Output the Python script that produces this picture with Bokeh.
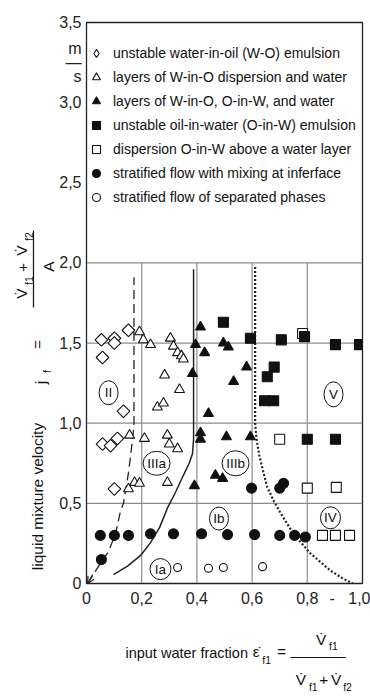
import numpy as np
from bokeh.plotting import figure
from bokeh.layouts import row, column
from bokeh.models import Range1d, FixedTicker, Legend, LegendItem, Arrow, OpenHead
from bokeh.core.properties import value
from bokeh.embed import file_html
from bokeh.resources import INLINE

FONT = "Liberation Sans"

# ---------------- data ----------------
x_ticks = [0, 0.2, 0.4, 0.6, 0.8, 0.89, 1.0]
x_tick_labels = ["0", "0,2", "0,4", "0,6", "0,8", "-", "1,0"]
y_ticks = [0, 0.5, 1.0, 1.5, 2.0, 2.5, 3.0, 3.25, 3.5]
y_tick_labels = ["0", "0,5", "1,0", "1,5", "2,0", "2,5", "3,0", "m\n\u2014\ns", "3,5"]
grid_x = [0.2, 0.4, 0.6, 0.8]
grid_y = [0.5, 1.0, 1.5, 2.0]
grid_top = 2.0

# unstable W-O emulsion (open diamonds)
wo_x = [0.054, 0.101, 0.101, 0.152, 0.058, 0.134, 0.058, 0.087, 0.112, 0.101]
wo_y = [1.52, 1.53, 1.50, 1.58, 1.41, 1.075, 0.87, 0.86, 0.905, 0.59]
# layers of W-in-O dispersion and water (open triangles)
wdw_x = [0.192, 0.206, 0.232, 0.304, 0.315, 0.33, 0.344, 0.351, 0.283, 0.337, 0.257,
         0.279, 0.156, 0.21, 0.293, 0.30, 0.33, 0.293, 0.152, 0.174, 0.192]
wdw_y = [1.57, 1.52, 1.49, 1.53, 1.48, 1.44, 1.42, 1.40, 1.30, 1.21, 1.10,
         1.125, 0.925, 0.905, 0.925, 0.87, 0.84, 0.63, 0.59, 0.63, 0.625]
# layers of W-in-O, O-in-W and water (filled triangles)
wow_x = [0.413, 0.395, 0.428, 0.384, 0.442, 0.496, 0.514, 0.58, 0.533, 0.413, 0.413,
         0.507, 0.594, 0.467, 0.493, 0.391]
wow_y = [1.60, 1.49, 1.44, 1.31, 1.06, 1.50, 1.475, 1.35, 1.26, 0.94, 0.90,
         0.915, 0.915, 0.675, 0.655, 0.61]
# unstable O-in-W emulsion (filled squares)
ow_x = [0.496, 0.594, 0.706, 0.79, 0.902, 0.989, 0.68, 0.655, 0.645, 0.678, 0.80, 0.902]
ow_y = [1.63, 1.53, 1.52, 1.54, 1.49, 1.49, 1.35, 1.29, 1.14, 1.14, 0.90, 0.90]
# dispersion O-in-W above a water layer (open squares)
owl_x = [0.783, 0.70, 0.80, 0.905, 0.855, 0.902, 0.953]
owl_y = [1.56, 0.90, 0.595, 0.60, 0.30, 0.30, 0.30]
# stratified flow with mixing at interface (filled circles)
smi_x = [0.05, 0.101, 0.152, 0.232, 0.315, 0.417, 0.511, 0.609, 0.70, 0.754, 0.793,
         0.054, 0.598, 0.70, 0.714]
smi_y = [0.30, 0.30, 0.30, 0.31, 0.31, 0.31, 0.305, 0.305, 0.30, 0.30, 0.29,
         0.15, 0.595, 0.595, 0.625]
# stratified flow of separated phases (open circles)
ss_x = [0.33, 0.442, 0.496, 0.638]
ss_y = [0.10, 0.095, 0.10, 0.105]

# boundary lines
dash_x = [0.004, 0.05, 0.08, 0.105, 0.123, 0.134, 0.152, 0.16, 0.17, 0.172, 0.172]
dash_y = [0.0, 0.125, 0.2, 0.31, 0.45, 0.5, 0.69, 0.8, 0.95, 1.0, 1.91]
solid_x = [0.098, 0.15, 0.196, 0.232, 0.265, 0.293, 0.32, 0.351, 0.372, 0.384, 0.388, 0.388]
solid_y = [0.055, 0.11, 0.175, 0.255, 0.35, 0.47, 0.56, 0.675, 0.75, 0.81, 0.9, 1.96]
dot_x = [0.611, 0.611, 0.616, 0.626, 0.64, 0.655, 0.68, 0.703, 0.75, 0.81, 0.884, 0.93, 0.965]
dot_y = [1.975, 1.0, 0.9, 0.8, 0.7, 0.60, 0.51, 0.44, 0.31, 0.19, 0.08, 0.03, 0.0]

# flow regime labels
region_names = ["II", "IIIa", "Ia", "IIIb", "Ib", "IV", "V"]
region_x = [0.08, 0.254, 0.268, 0.54, 0.48, 0.884, 0.895]
region_y = [1.19, 0.75, 0.09, 0.75, 0.405, 0.41, 1.18]
region_w = [19, 27, 21, 27, 19, 20, 19]
region_h = [24, 24, 21, 25, 23, 22, 25]

legend_labels = [
    "unstable water-in-oil (W-O) emulsion",
    "layers of W-in-O dispersion and water",
    "layers of W-in-O, O-in-W, and water",
    "unstable oil-in-water (O-in-W) emulsion",
    "dispersion O-in-W above a water layer",
    "stratified flow with mixing at inferface",
    "stratified flow of separated phases",
]

C = "#111111"

# ---------------- main figure (page x 56..370, y 0..613) ----------------
p = figure(width=314, height=613, x_range=Range1d(0, 1), y_range=Range1d(0, 3.5),
           output_backend="svg", toolbar_location=None,
           min_border_left=30, min_border_right=8, min_border_top=22, min_border_bottom=30)
p.xgrid.visible = False
p.ygrid.visible = False
p.outline_line_color = "#222222"
p.outline_line_width = 1.3

for ax in (p.xaxis[0], p.yaxis[0]):
    ax.major_tick_out = 0
    ax.major_tick_in = 0
    ax.minor_tick_out = 0
    ax.minor_tick_in = 0
    ax.axis_line_color = "#222222"
    ax.major_label_text_font = FONT
    ax.major_label_text_font_size = "16px"
    ax.major_label_text_color = "#222222"

p.xaxis.ticker = FixedTicker(ticks=x_ticks)
p.xaxis.major_label_overrides = dict(zip(x_ticks, x_tick_labels))
p.xaxis.major_label_standoff = 8
p.yaxis.ticker = FixedTicker(ticks=y_ticks)
p.yaxis.major_label_overrides = dict(zip(y_ticks, y_tick_labels))
p.yaxis.major_label_standoff = 5
p.yaxis.major_label_text_line_height = 0.8

# grid (only lower part)
p.segment(x0=grid_x, y0=[0] * len(grid_x), x1=grid_x, y1=[grid_top] * len(grid_x),
          line_color="#8c8c8c", line_width=1.2)
p.segment(x0=[0] * len(grid_y), y0=grid_y, x1=[1] * len(grid_y), y1=grid_y,
          line_color="#8c8c8c", line_width=1.2)

# boundaries
p.line(dash_x, dash_y, line_color="#222222", line_width=1.3, line_dash="9 5")
p.line(solid_x, solid_y, line_color="#222222", line_width=1.5)
p.line(dot_x, dot_y, line_color="#222222", line_width=2.2, line_dash="2 2")
p.add_layout(Arrow(end=OpenHead(size=7, line_width=1.2, line_color="#222222"),
                   x_start=dash_x[1] * 0.45, y_start=dash_y[1] * 0.45,
                   x_end=dash_x[0], y_end=dash_y[0],
                   line_color="#222222", line_width=1.2))

# markers
p.scatter(wo_x, wo_y, marker="square", angle=np.pi / 4, size=9,
          fill_color="white", line_color=C, line_width=1.1)
# legend proxy for the diamond marker (nothing is drawn on the plot)
r_wo_leg = p.scatter([np.nan], [np.nan], marker="diamond", size=17,
                     fill_color="white", line_color=C, line_width=1.1)
r_wdw = p.scatter(wdw_x, wdw_y, marker="triangle", size=10,
                  fill_color="white", line_color=C, line_width=1.1)
r_wow = p.scatter(wow_x, wow_y, marker="triangle", size=10,
                  fill_color=C, line_color=C, line_width=1.1)
r_owl = p.scatter(owl_x, owl_y, marker="square", size=10,
                  fill_color="white", line_color=C, line_width=1.1)
r_ow = p.scatter(ow_x, ow_y, marker="square", size=10,
                 fill_color=C, line_color=C, line_width=1.1)
r_smi = p.scatter(smi_x, smi_y, marker="circle", size=10,
                  fill_color=C, line_color=C, line_width=1.1)
r_ss = p.scatter(ss_x, ss_y, marker="circle", size=8,
                 fill_color="white", line_color=C, line_width=1.1)

# regime labels
p.ellipse(x=region_x, y=region_y, width=region_w, height=region_h,
          width_units="screen", height_units="screen",
          fill_color="white", fill_alpha=0.0, line_color=C, line_width=1.0)
p.text(x=region_x, y=region_y, text=region_names, text_font=value(FONT),
       text_font_size="13.5px", text_align="center", text_baseline="middle", text_color=C)

# legend
items = [LegendItem(label=l, renderers=[r]) for l, r in
         zip(legend_labels, [r_wo_leg, r_wdw, r_wow, r_ow, r_owl, r_smi, r_ss])]
legend = Legend(items=items, location=(0, 376), orientation="vertical",
                glyph_width=20, glyph_height=20, label_height=20, spacing=4,
                label_standoff=7, padding=0, margin=0,
                border_line_alpha=0, background_fill_alpha=0,
                label_text_font=FONT, label_text_font_size="14px",
                label_text_color=C)
p.add_layout(legend)


def blank(width, height, x0, x1, y0, y1):
    f = figure(width=width, height=height, x_range=Range1d(x0, x1), y_range=Range1d(y1, y0),
               output_backend="svg", toolbar_location=None, x_axis_type=None, y_axis_type=None,
               min_border=0)
    f.xgrid.visible = False
    f.ygrid.visible = False
    f.outline_line_color = None
    return f


def txt(f, t, px, py, size, angle=0.0):
    f.text(x=[px], y=[py], text=[t], text_font=value(FONT), text_font_size=f"{size}px",
           text_align="center", text_baseline="middle", angle=angle, text_color=C)


VD = "V\u0307"
A = np.pi / 2

# ---------------- y-axis title (page x 0..56, y 0..696) ----------------
fl = blank(56, 696, 0, 56, 0, 696)
txt(fl, "liquid mixture velocity", 37, 496, 15.5, A)
txt(fl, "j", 40, 382, 15.5, A)
txt(fl, "f", 46, 371, 10.5, A)
txt(fl, "=", 37, 344, 15.5, A)
txt(fl, VD, 21, 293, 15.5, A)
txt(fl, "f1", 28, 280, 10.5, A)
txt(fl, "+", 22, 267, 15.5, A)
txt(fl, VD, 21, 250, 15.5, A)
txt(fl, "f2", 28, 236, 10.5, A)
fl.segment(x0=[33], y0=[307], x1=[33], y1=[230], line_color=C, line_width=1.2)
txt(fl, "A", 48, 266, 15.5, A)

# ---------------- x-axis title (page x 56..370, y 613..696) ----------------
fb = blank(314, 83, 56, 370, 613, 696)
txt(fb, "input water fraction", 170, 652, 14.5)
txt(fb, "\u03b5\u0307", 249, 651, 15)
txt(fb, "f1", 261, 659, 10.5)
txt(fb, "=", 278, 651, 15)
txt(fb, VD, 323, 639, 15.5)
txt(fb, "f1", 337, 645, 10.5)
fb.segment(x0=[288], y0=[657], x1=[351], y1=[657], line_color=C, line_width=1.2)
txt(fb, VD, 300, 679, 15.5)
txt(fb, "f1", 314, 686, 10.5)
txt(fb, "+", 326, 679, 15.5)
txt(fb, VD, 340, 679, 15.5)
txt(fb, "f2", 353, 686, 10.5)

layout = row(fl, column(p, fb))
open("out.html", "w").write(file_html(layout, INLINE))
